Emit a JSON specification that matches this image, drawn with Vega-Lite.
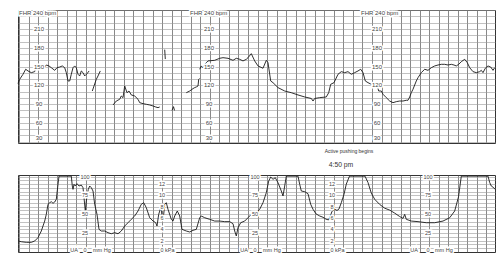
{
  "$schema": "https://vega.github.io/schema/vega-lite/v6.json",
  "padding": {"left": 15, "top": 9, "right": 8, "bottom": 10},
  "background": "white",
  "spacing": 32,
  "bounds": "flush",
  "config": {
    "view": {"stroke": "#333", "strokeWidth": 1},
    "axis": {"labels": false, "ticks": false, "domain": false, "title": null, "grid": true, "tickCount": 500},
    "text": {"font": "Liberation Sans"}
  },
  "datasets": {
    "fhr": [
      {"t":15,"v":123,"s":1},{"t":16.7,"v":129.7,"s":1},{"t":20,"v":137.7,"s":1},{"t":22.7,"v":145.7,"s":1},{"t":25,"v":143,"s":1},{"t":28.3,"v":140.3,"s":1},{"t":31.7,"v":141.9,"s":1},{"t":32.7,"v":149.3,"s":1},{"t":35,"v":152.5,"s":1},{"t":38.3,"v":148.2,"s":1},{"t":41.7,"v":149.3,"s":1},{"t":43.3,"v":152.5,"s":1},{"t":46,"v":151,"s":1},{"t":48.3,"v":148.2,"s":1},{"t":51.7,"v":144,"s":1},{"t":54,"v":148.2,"s":1},{"t":56.7,"v":149.3,"s":1},{"t":59.3,"v":151,"s":1},{"t":61.7,"v":148.2,"s":1},{"t":63.3,"v":140.3,"s":1},{"t":65,"v":127,"s":1},{"t":66.7,"v":127,"s":1},{"t":68.3,"v":137.7,"s":1},{"t":70,"v":148.2,"s":1},{"t":71.7,"v":151,"s":1},{"t":73.3,"v":148.2,"s":1},{"t":75,"v":137.7,"s":1},{"t":76.7,"v":135,"s":1},{"t":78.3,"v":143,"s":1},{"t":80,"v":140.3,"s":1},{"t":81.7,"v":135,"s":1},{"t":83.3,"v":137.7,"s":1},{"t":85,"v":140.3,"s":1},{"t":86,"v":143,"s":1},
      {"t":89.3,"v":111,"s":2},{"t":93.3,"v":129.7,"s":2},{"t":95,"v":135,"s":2},{"t":97.3,"v":143,"s":2},
      {"t":110,"v":88.7,"s":3},{"t":113.3,"v":95,"s":3},{"t":116.7,"v":97.8,"s":3},{"t":118.3,"v":103,"s":3},{"t":120,"v":100.4,"s":3},{"t":121.7,"v":119,"s":3},{"t":124,"v":108.3,"s":3},{"t":126,"v":111,"s":3},{"t":128.3,"v":104.7,"s":3},{"t":131.7,"v":103,"s":3},{"t":135,"v":97.8,"s":3},{"t":136.7,"v":92.4,"s":3},{"t":140,"v":90.8,"s":3},{"t":143.3,"v":89.8,"s":3},{"t":146.7,"v":88.7,"s":3},{"t":150,"v":87.1,"s":3},{"t":152.7,"v":85.5,"s":3},{"t":155,"v":84.4,"s":3},{"t":156.7,"v":85.5,"s":3},
      {"t":161.7,"v":177,"s":4},{"t":162.3,"v":162,"s":4},
      {"t":169,"v":80,"s":5},{"t":170.5,"v":86,"s":5},{"t":171.5,"v":80,"s":5},
      {"t":183.3,"v":108.3,"s":6},{"t":186.7,"v":111,"s":6},{"t":190,"v":114.8,"s":6},{"t":191.7,"v":116.4,"s":6},{"t":193.3,"v":117.5,"s":6},{"t":195,"v":119,"s":6},{"t":195.7,"v":129.7,"s":6},{"t":196.5,"v":131,"s":6},
      {"t":196.7,"v":145.7,"s":7},{"t":198.3,"v":151,"s":7},{"t":200,"v":148,"s":7},{"t":201.7,"v":153.6,"s":7},{"t":205,"v":159,"s":7},{"t":211.7,"v":160,"s":7},{"t":216.7,"v":163.2,"s":7},{"t":220,"v":164.2,"s":7},{"t":225,"v":163.2,"s":7},{"t":230,"v":160,"s":7},{"t":233.3,"v":163.2,"s":7},{"t":236.7,"v":161.6,"s":7},{"t":240,"v":159,"s":7},{"t":243.3,"v":161.6,"s":7},{"t":245,"v":164.2,"s":7},{"t":248.3,"v":170.6,"s":7},{"t":251.7,"v":159,"s":7},{"t":255,"v":151,"s":7},{"t":260,"v":147.3,"s":7},{"t":263.3,"v":160,"s":7},{"t":265,"v":156.2,"s":7},{"t":267.7,"v":127,"s":7},{"t":270,"v":124.3,"s":7},{"t":275,"v":116.4,"s":7},{"t":281.7,"v":111,"s":7},{"t":288.3,"v":108.3,"s":7},{"t":295,"v":104.7,"s":7},{"t":301.7,"v":101.5,"s":7},{"t":308.3,"v":99.1,"s":7},{"t":310,"v":95,"s":7},{"t":311.7,"v":99.1,"s":7},{"t":316.7,"v":100.4,"s":7},{"t":323.3,"v":101.5,"s":7},{"t":325.7,"v":108.3,"s":7},{"t":327.7,"v":121.7,"s":7},{"t":331,"v":124.3,"s":7},{"t":335,"v":137.7,"s":7},{"t":338.3,"v":141.9,"s":7},{"t":341.7,"v":140.3,"s":7},{"t":345,"v":141.9,"s":7},{"t":348.3,"v":137.7,"s":7},{"t":351.7,"v":140.3,"s":7},{"t":355,"v":143,"s":7},{"t":357.7,"v":145.7,"s":7},{"t":360,"v":140.3,"s":7},{"t":362.3,"v":127,"s":7},{"t":365,"v":124.3,"s":7},{"t":368.3,"v":121.7,"s":7},{"t":371.7,"v":122.7,"s":7},{"t":374.3,"v":119,"s":7},{"t":375.7,"v":111,"s":7},{"t":378.3,"v":111,"s":7},{"t":380,"v":105.8,"s":7},{"t":383.3,"v":100.4,"s":7},{"t":386.7,"v":95,"s":7},{"t":390,"v":92.4,"s":7},{"t":393.3,"v":94,"s":7},{"t":396.7,"v":95,"s":7},{"t":400,"v":95,"s":7},{"t":403.3,"v":96.2,"s":7},{"t":405,"v":96.2,"s":7},{"t":406.7,"v":101.5,"s":7},{"t":408.3,"v":108.3,"s":7},{"t":410,"v":113.8,"s":7},{"t":411.7,"v":120.6,"s":7},{"t":413.3,"v":127,"s":7},{"t":415,"v":132.3,"s":7},{"t":418.3,"v":140.3,"s":7},{"t":421.7,"v":145.7,"s":7},{"t":425,"v":144,"s":7},{"t":428.3,"v":148.2,"s":7},{"t":431.7,"v":151,"s":7},{"t":435,"v":152.5,"s":7},{"t":438.3,"v":153.6,"s":7},{"t":441.7,"v":153.6,"s":7},{"t":445,"v":152.5,"s":7},{"t":448.3,"v":153.6,"s":7},{"t":451,"v":152.5,"s":7},{"t":453.3,"v":151,"s":7},{"t":455.7,"v":153.6,"s":7},{"t":458.3,"v":157.8,"s":7},{"t":461.7,"v":161.6,"s":7},{"t":464.3,"v":156.2,"s":7},{"t":466.7,"v":148.2,"s":7},{"t":470,"v":141.9,"s":7},{"t":473.3,"v":140.3,"s":7},{"t":476.7,"v":141.9,"s":7},{"t":478.3,"v":144,"s":7},{"t":480,"v":140.3,"s":7},{"t":482.3,"v":147.3,"s":7},{"t":485,"v":151,"s":7},{"t":487.7,"v":149.3,"s":7},{"t":490,"v":144,"s":7},{"t":491.7,"v":148.2,"s":7}
    ],
    "ua": [
      {"t":15,"v":14.6},{"t":18.3,"v":13.6},{"t":23.3,"v":12.8},{"t":28.3,"v":12.8},{"t":31.7,"v":14.6},{"t":35,"v":19},{"t":38.3,"v":27.8},{"t":41.7,"v":41},{"t":43.3,"v":49.9},{"t":45,"v":63.2},{"t":46.7,"v":65.3},{"t":48.3,"v":66.6},{"t":50,"v":64.5},{"t":51.7,"v":66.2},{"t":53.3,"v":69.8},{"t":55,"v":89.7},{"t":56,"v":100.5},{"t":68.3,"v":100.5},{"t":69.3,"v":87.4},{"t":70,"v":83},{"t":71,"v":89.7},{"t":72.3,"v":87.4},{"t":74,"v":90.5},{"t":76,"v":87.4},{"t":78.3,"v":88.7},{"t":80,"v":85.2},{"t":81,"v":71.9},{"t":82.3,"v":54.3},{"t":83.3,"v":67.5},{"t":84.3,"v":76.4},{"t":85.3,"v":83},{"t":86.7,"v":87.4},{"t":88.3,"v":85.2},{"t":90,"v":80.8},{"t":91.7,"v":63.2},{"t":94,"v":49.9},{"t":96,"v":30},{"t":98.3,"v":27.8},{"t":101.7,"v":27.8},{"t":105,"v":25.6},{"t":108.3,"v":24.2},{"t":111.7,"v":25.6},{"t":115,"v":24.2},{"t":118.3,"v":27.8},{"t":121.7,"v":34.4},{"t":125,"v":38.8},{"t":128.3,"v":43.3},{"t":131.7,"v":47.7},{"t":135,"v":54.3},{"t":138.3,"v":63.2},{"t":140.7,"v":65.3},{"t":143.3,"v":58.7},{"t":146.7,"v":45.4},{"t":150,"v":41.1},{"t":152.7,"v":38.8},{"t":154,"v":34.4},{"t":155.7,"v":49.9},{"t":157.3,"v":56.6},{"t":158.3,"v":58.7},{"t":159,"v":45.4},{"t":160.7,"v":49.9},{"t":161.7,"v":63.2},{"t":163.3,"v":65.3},{"t":165,"v":56.6},{"t":168.3,"v":43.3},{"t":170,"v":41},{"t":171.7,"v":47.7},{"t":174.3,"v":54.3},{"t":176.7,"v":47.7},{"t":179,"v":30},{"t":183.3,"v":27.8},{"t":186.7,"v":26.5},{"t":190,"v":28.7},{"t":193.3,"v":30},{"t":196.7,"v":45.4},{"t":198.3,"v":47.7},{"t":201.7,"v":45.4},{"t":206.7,"v":43.3},{"t":211.7,"v":41},{"t":216.7,"v":41},{"t":221.7,"v":40.2},{"t":226.7,"v":40.2},{"t":230,"v":37.5},{"t":231.7,"v":27.8},{"t":233.3,"v":21.2},{"t":235,"v":32.2},{"t":237.7,"v":38.8},{"t":241.7,"v":41},{"t":245,"v":45.4},{"t":248.3,"v":49.9},{"t":253.3,"v":52},{"t":256.7,"v":56.6},{"t":260,"v":65.3},{"t":263.3,"v":78.6},{"t":265.7,"v":94},{"t":267.7,"v":99.3},{"t":270,"v":96.3},{"t":272.3,"v":98.4},{"t":275,"v":91.8},{"t":278.3,"v":80.8},{"t":280,"v":74.2},{"t":281.7,"v":87.4},{"t":283.3,"v":100.5},{"t":295,"v":100.5},{"t":296.7,"v":89.7},{"t":298.3,"v":80.8},{"t":301.7,"v":79.9},{"t":305,"v":77.2},{"t":307.7,"v":63.2},{"t":310,"v":56.6},{"t":313,"v":50.5},{"t":316.7,"v":47.7},{"t":320,"v":46},{"t":323,"v":43.5},{"t":325.5,"v":42.5},{"t":327,"v":46},{"t":329,"v":54},{"t":331.7,"v":56.6},{"t":334,"v":55},{"t":336,"v":57},{"t":338.3,"v":65.3},{"t":341,"v":76.4},{"t":343.3,"v":90},{"t":346.5,"v":100.5},{"t":362,"v":100.5},{"t":365,"v":92},{"t":368.3,"v":78},{"t":371.7,"v":69.8},{"t":376.7,"v":63},{"t":381.7,"v":58},{"t":386.7,"v":55.5},{"t":391.7,"v":51.5},{"t":396.7,"v":47},{"t":400,"v":44.5},{"t":401.7,"v":49.9},{"t":403.3,"v":43.3},{"t":408.3,"v":41},{"t":415,"v":40.2},{"t":423.3,"v":38.8},{"t":431.7,"v":38.8},{"t":440,"v":41},{"t":446.7,"v":45.4},{"t":451.7,"v":54.3},{"t":455.5,"v":73},{"t":458.3,"v":100.5},{"t":485,"v":100.5},{"t":486.7,"v":92},{"t":488.3,"v":87.4},{"t":490.7,"v":85.2},{"t":492,"v":83}
    ],
    "fhrLab": [
      {"t":36,"v":210,"label":"210"},{"t":36,"v":180,"label":"180"},{"t":36,"v":150,"label":"150"},{"t":36,"v":120,"label":"120"},{"t":36,"v":90,"label":"90"},{"t":36,"v":60,"label":"60"},{"t":36,"v":36,"label":"30"},
      {"t":206,"v":210,"label":"210"},{"t":206,"v":180,"label":"180"},{"t":206,"v":150,"label":"150"},{"t":206,"v":120,"label":"120"},{"t":206,"v":90,"label":"90"},{"t":206,"v":60,"label":"60"},{"t":206,"v":36,"label":"30"},
      {"t":374,"v":210,"label":"210"},{"t":374,"v":180,"label":"180"},{"t":374,"v":150,"label":"150"},{"t":374,"v":120,"label":"120"},{"t":374,"v":90,"label":"90"},{"t":374,"v":60,"label":"60"},{"t":374,"v":36,"label":"30"}
    ],
    "fhrTitle": [
      {"t":16,"v":236,"label":"FHR 240 bpm"},{"t":187,"v":236,"label":"FHR 240 bpm"},{"t":358,"v":236,"label":"FHR 240 bpm"}
    ],
    "uaLab": [
      {"t":82,"v":100,"label":"100"},{"t":82,"v":75,"label":"75"},{"t":82,"v":50,"label":"50"},{"t":82,"v":25,"label":"25"},{"t":82,"v":3,"label":"0"},{"t":71,"v":3,"label":"UA"},
      {"t":252,"v":100,"label":"100"},{"t":252,"v":75,"label":"75"},{"t":252,"v":50,"label":"50"},{"t":252,"v":25,"label":"25"},{"t":252,"v":3,"label":"0"},{"t":241,"v":3,"label":"UA"},
      {"t":425,"v":100,"label":"100"},{"t":425,"v":75,"label":"75"},{"t":425,"v":50,"label":"50"},{"t":425,"v":25,"label":"25"},{"t":425,"v":3,"label":"0"},{"t":411,"v":3,"label":"UA"},
      {"t":159,"v":90,"label":"12"},{"t":159,"v":75,"label":"10"},{"t":159,"v":60,"label":"8"},{"t":159,"v":45,"label":"6"},{"t":159,"v":30,"label":"4"},{"t":159,"v":15,"label":"2"},{"t":159,"v":3,"label":"0"},
      {"t":329,"v":90,"label":"12"},{"t":329,"v":75,"label":"10"},{"t":329,"v":60,"label":"8"},{"t":329,"v":45,"label":"6"},{"t":329,"v":30,"label":"4"},{"t":329,"v":15,"label":"2"},{"t":329,"v":3,"label":"0"}
    ],
    "uaUnit": [
      {"t":90,"v":3,"label":"mm Hg"},{"t":260,"v":3,"label":"mm Hg"},{"t":432,"v":3,"label":"mm Hg"},
      {"t":162,"v":3,"label":"kPa"},{"t":332,"v":3,"label":"kPa"}
    ]
  },
  "vconcat": [
    {
      "width": 477,
      "height": 133,
      "layer": [
        {
          "data": {"name": "fhr"},
          "mark": {"type": "line", "color": "#1a1a1a", "strokeWidth": 0.9},
          "encoding": {
            "x": {"field": "t", "type": "quantitative", "scale": {"domain": [15, 492], "nice": false, "zero": false},
              "axis": {"values": [16,25.54,35.08,44.62,54.16,63.7,73.24,82.78,92.32,101.86,111.4,120.94,130.48,140.02,149.56,159.1,168.64,178.18,187.72,197.26,206.8,216.34,225.88,235.42,244.96,254.5,264.04,273.58,283.12,292.66,302.2,311.74,321.28,330.82,340.36,349.9,359.44,368.98,378.52,388.06,397.6,407.14,416.68,426.22,435.76,445.3,454.84,464.38,473.92,483.46], "tickCount": 500, "gridColor": "#555", "gridWidth": 0.7}},
            "y": {"field": "v", "type": "quantitative", "scale": {"domain": [28, 240.3], "nice": false, "zero": false},
              "axis": {"values": [30,40,50,60,70,80,90,100,110,120,130,140,150,160,170,180,190,200,210,220,230,240], "tickCount": 500, "gridColor": "#999", "gridWidth": 0.6}},
            "detail": {"field": "s", "type": "nominal"}
          }
        },
        {
          "data": {"name": "fhrLab"},
          "mark": {"type": "text", "fontSize": 6, "color": "white", "stroke": "white", "strokeWidth": 3},
          "encoding": {"x": {"field": "t", "type": "quantitative"}, "y": {"field": "v", "type": "quantitative"}, "text": {"field": "label"}}
        },
        {
          "data": {"name": "fhrLab"},
          "mark": {"type": "text", "fontSize": 6, "color": "#444"},
          "encoding": {"x": {"field": "t", "type": "quantitative"}, "y": {"field": "v", "type": "quantitative"}, "text": {"field": "label"}}
        },
        {
          "data": {"name": "fhrTitle"},
          "mark": {"type": "text", "fontSize": 6, "align": "left", "color": "white", "stroke": "white", "strokeWidth": 3},
          "encoding": {"x": {"field": "t", "type": "quantitative"}, "y": {"field": "v", "type": "quantitative"}, "text": {"field": "label"}}
        },
        {
          "data": {"name": "fhrTitle"},
          "mark": {"type": "text", "fontSize": 6, "align": "left", "color": "#444"},
          "encoding": {"x": {"field": "t", "type": "quantitative"}, "y": {"field": "v", "type": "quantitative"}, "text": {"field": "label"}}
        },
        {
          "data": {"values": [{"t": 346, "v": 15.2, "label": "Active pushing begins"}]},
          "mark": {"type": "text", "fontSize": 5, "color": "#333", "clip": false},
          "encoding": {"x": {"field": "t", "type": "quantitative"}, "y": {"field": "v", "type": "quantitative"}, "text": {"field": "label"}}
        },
        {
          "data": {"values": [{"t": 338, "v": -7.1, "label": "4:50 pm"}]},
          "mark": {"type": "text", "fontSize": 6.8, "color": "#333", "clip": false},
          "encoding": {"x": {"field": "t", "type": "quantitative"}, "y": {"field": "v", "type": "quantitative"}, "text": {"field": "label"}}
        }
      ]
    },
    {
      "width": 477,
      "height": 77,
      "layer": [
        {
          "data": {"name": "ua"},
          "mark": {"type": "line", "color": "#1a1a1a", "strokeWidth": 0.9},
          "encoding": {
            "x": {"field": "t", "type": "quantitative", "scale": {"domain": [15, 492], "nice": false, "zero": false},
              "axis": {"values": [16,25.54,35.08,44.62,54.16,63.7,73.24,82.78,92.32,101.86,111.4,120.94,130.48,140.02,149.56,159.1,168.64,178.18,187.72,197.26,206.8,216.34,225.88,235.42,244.96,254.5,264.04,273.58,283.12,292.66,302.2,311.74,321.28,330.82,340.36,349.9,359.44,368.98,378.52,388.06,397.6,407.14,416.68,426.22,435.76,445.3,454.84,464.38,473.92,483.46], "tickCount": 500, "gridColor": "#555", "gridWidth": 0.7}},
            "y": {"field": "v", "type": "quantitative", "scale": {"domain": [0, 102], "nice": false, "zero": false},
              "axis": {"values": [5,10,15,20,25,30,35,40,45,50,55,60,65,70,75,80,85,90,95,100], "tickCount": 500, "gridColor": "#999", "gridWidth": 0.6}}
          }
        },
        {
          "data": {"name": "uaLab"},
          "mark": {"type": "text", "fontSize": 5.5, "color": "white", "stroke": "white", "strokeWidth": 3},
          "encoding": {"x": {"field": "t", "type": "quantitative"}, "y": {"field": "v", "type": "quantitative"}, "text": {"field": "label"}}
        },
        {
          "data": {"name": "uaLab"},
          "mark": {"type": "text", "fontSize": 5.5, "color": "#444"},
          "encoding": {"x": {"field": "t", "type": "quantitative"}, "y": {"field": "v", "type": "quantitative"}, "text": {"field": "label"}}
        },
        {
          "data": {"name": "uaUnit"},
          "mark": {"type": "text", "fontSize": 5.5, "align": "left", "color": "white", "stroke": "white", "strokeWidth": 3},
          "encoding": {"x": {"field": "t", "type": "quantitative"}, "y": {"field": "v", "type": "quantitative"}, "text": {"field": "label"}}
        },
        {
          "data": {"name": "uaUnit"},
          "mark": {"type": "text", "fontSize": 5.5, "align": "left", "color": "#444"},
          "encoding": {"x": {"field": "t", "type": "quantitative"}, "y": {"field": "v", "type": "quantitative"}, "text": {"field": "label"}}
        }
      ]
    }
  ]
}
